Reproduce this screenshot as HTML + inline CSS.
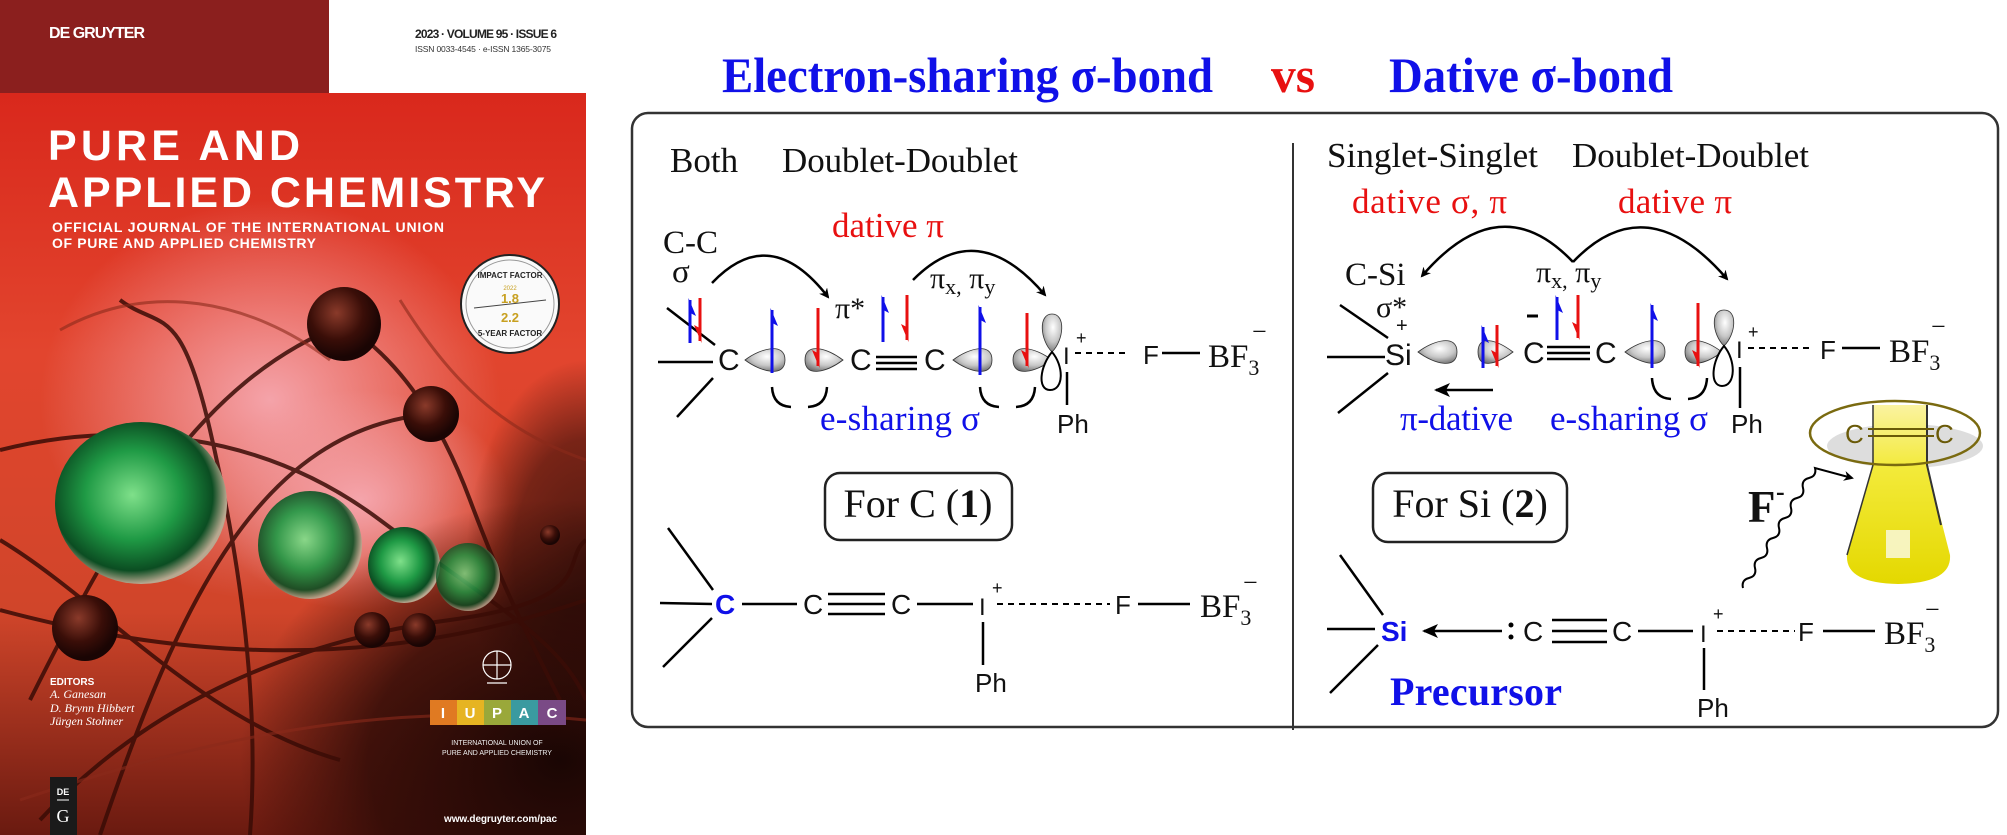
<!DOCTYPE html>
<html><head><meta charset="utf-8"><style>
html,body{margin:0;padding:0;background:#fff;width:2007px;height:835px;overflow:hidden;}
svg{display:block;}
.s{font-family:"Liberation Serif",serif;}
.a{font-family:"Liberation Sans",sans-serif;}
</style></head><body>
<svg width="2007" height="835" viewBox="0 0 2007 835" xmlns="http://www.w3.org/2000/svg">
<defs>
<clipPath id="cc"><rect x="0" y="93" width="586" height="742"/></clipPath>
<linearGradient id="cv" x1="0" y1="0" x2="0" y2="1">
<stop offset="0" stop-color="#d9281c"/><stop offset="0.35" stop-color="#e2452e"/><stop offset="0.7" stop-color="#d0452a"/><stop offset="1" stop-color="#6a1a10"/>
</linearGradient>
<radialGradient id="pk" cx="0.5" cy="0.5" r="0.5"><stop offset="0" stop-color="#f6a8b0" stop-opacity="0.95"/><stop offset="1" stop-color="#f6a8b0" stop-opacity="0"/></radialGradient>
<radialGradient id="dk" cx="0.5" cy="0.5" r="0.5"><stop offset="0" stop-color="#1a0604" stop-opacity="1"/><stop offset="0.6" stop-color="#2a0a06" stop-opacity="0.8"/><stop offset="1" stop-color="#2a0a06" stop-opacity="0"/></radialGradient>
<radialGradient id="gr" cx="0.45" cy="0.45" r="0.55"><stop offset="0" stop-color="#7fe08a"/><stop offset="0.5" stop-color="#1f9a45"/><stop offset="0.85" stop-color="#0b4d22"/><stop offset="1" stop-color="#b8a890"/></radialGradient>
<radialGradient id="br" cx="0.4" cy="0.35" r="0.6"><stop offset="0" stop-color="#8a3a2a"/><stop offset="0.6" stop-color="#3a0e08"/><stop offset="1" stop-color="#1a0504"/></radialGradient>
<radialGradient id="lb" cx="0.55" cy="0.35" r="0.7"><stop offset="0" stop-color="#ffffff"/><stop offset="0.55" stop-color="#c8c8c8"/><stop offset="1" stop-color="#6e6e6e"/></radialGradient>
<linearGradient id="fl" x1="0" y1="0" x2="0" y2="1"><stop offset="0" stop-color="#fbf3a0"/><stop offset="0.35" stop-color="#f3ea3a"/><stop offset="1" stop-color="#e4d800"/></linearGradient>
<marker id="ah" markerWidth="10" markerHeight="10" refX="8" refY="5" orient="auto" markerUnits="userSpaceOnUse"><path d="M0,0 L10,5 L0,10 L3,5 Z" fill="#000"/></marker>
<marker id="ah2" markerWidth="16" markerHeight="14" refX="14" refY="7" orient="auto" markerUnits="userSpaceOnUse"><path d="M0,0 L16,7 L0,14 L4,7 Z" fill="#000"/></marker>
</defs>

<!-- ===== COVER ===== -->
<rect x="0" y="0" width="329" height="93" fill="#8b1f1e"/>
<text x="49" y="38" class="a" font-weight="bold" font-size="16" fill="#fff" textLength="96">DE GRUYTER</text>
<text x="415" y="38" class="a" font-weight="bold" font-size="12" fill="#222" textLength="142">2023 · VOLUME 95 · ISSUE 6</text>
<text x="415" y="52" class="a" font-size="8.5" fill="#333" textLength="136">ISSN 0033-4545 · e-ISSN 1365-3075</text>
<g clip-path="url(#cc)">
<rect x="0" y="93" width="586" height="742" fill="url(#cv)"/>
<ellipse cx="270" cy="400" rx="230" ry="200" fill="url(#pk)"/>
<ellipse cx="360" cy="500" rx="150" ry="110" fill="url(#pk)"/>
<ellipse cx="560" cy="760" rx="320" ry="260" fill="url(#dk)"/>
<ellipse cx="586" cy="560" rx="120" ry="200" fill="url(#dk)" opacity="0.7"/>
<g fill="none" stroke="#3a0c06" stroke-width="4" opacity="0.85">
<path d="M0,450 C120,420 260,430 380,520 S560,640 586,700"/>
<path d="M30,700 C120,520 200,380 344,324"/>
<path d="M40,820 C150,700 300,640 450,620 S560,560 586,540"/>
<path d="M100,835 C180,600 260,430 430,414"/>
<path d="M250,835 C260,700 240,560 210,430 S160,330 120,300"/>
<path d="M0,610 C150,650 350,680 586,600"/>
<path d="M344,324 C400,360 440,420 470,500 S520,620 560,700"/>
<path d="M0,540 C100,600 200,720 340,760"/>
</g>
<g fill="none" stroke="#8a2a1a" stroke-width="3" opacity="0.6">
<path d="M60,330 C150,280 250,300 330,360"/>
<path d="M20,800 C200,740 380,700 586,720"/>
<path d="M400,300 C450,380 500,430 586,460"/>
</g>
<ellipse cx="141" cy="503" rx="86" ry="81" fill="url(#gr)"/>
<ellipse cx="310" cy="545" rx="52" ry="54" fill="url(#gr)" opacity="0.9"/>
<ellipse cx="404" cy="565" rx="36" ry="38" fill="url(#gr)"/>
<ellipse cx="468" cy="577" rx="32" ry="34" fill="url(#gr)" opacity="0.8"/>
<circle cx="344" cy="324" r="37" fill="url(#br)"/>
<circle cx="431" cy="414" r="28" fill="url(#br)"/>
<circle cx="85" cy="628" r="33" fill="url(#br)"/>
<circle cx="372" cy="630" r="18" fill="url(#br)"/>
<circle cx="419" cy="630" r="17" fill="url(#br)"/>
<circle cx="550" cy="535" r="10" fill="url(#br)"/>
</g>
<text x="48" y="160" class="a" font-weight="bold" font-size="43" fill="#fff" textLength="252">PURE AND</text>
<text x="48" y="207" class="a" font-weight="bold" font-size="43" fill="#fff" textLength="497">APPLIED CHEMISTRY</text>
<text x="52" y="232" class="a" font-weight="bold" font-size="14" fill="#fff" textLength="392">OFFICIAL JOURNAL OF THE INTERNATIONAL UNION</text>
<text x="52" y="248" class="a" font-weight="bold" font-size="14" fill="#fff" textLength="264">OF PURE AND APPLIED CHEMISTRY</text>
<circle cx="510" cy="304" r="49" fill="#fafafa" stroke="#222" stroke-width="2"/>
<circle cx="510" cy="304" r="44" fill="none" stroke="#999" stroke-width="1"/>
<text x="510" y="278" class="a" font-weight="bold" font-size="8" fill="#222" text-anchor="middle">IMPACT FACTOR</text>
<text x="510" y="290" class="a" font-size="6" fill="#c8a020" text-anchor="middle">2022</text>
<text x="510" y="303" class="a" font-weight="bold" font-size="13" fill="#c8a020" text-anchor="middle">1.8</text>
<line x1="474" y1="308" x2="546" y2="300" stroke="#444" stroke-width="1"/>
<text x="510" y="322" class="a" font-weight="bold" font-size="13" fill="#c8a020" text-anchor="middle">2.2</text>
<text x="510" y="336" class="a" font-weight="bold" font-size="8" fill="#222" text-anchor="middle">5-YEAR FACTOR</text>
<text x="50" y="685" class="a" font-weight="bold" font-size="10" fill="#fff">EDITORS</text>
<text x="50" y="698" class="s" font-style="italic" font-size="12" fill="#fff">A. Ganesan</text>
<text x="50" y="712" class="s" font-style="italic" font-size="12" fill="#fff">D. Brynn Hibbert</text>
<text x="50" y="725" class="s" font-style="italic" font-size="12" fill="#fff">Jürgen Stohner</text>
<g fill="none" stroke="#fff" stroke-width="1.2"><circle cx="497" cy="665" r="14"/><line x1="483" y1="665" x2="511" y2="665"/><line x1="497" y1="651" x2="497" y2="679"/><line x1="487" y1="683" x2="507" y2="683"/></g>
<rect x="430" y="700" width="27" height="25" fill="#e07a22"/><rect x="457" y="700" width="27" height="25" fill="#e6b422"/><rect x="484" y="700" width="27" height="25" fill="#9aa83a"/><rect x="511" y="700" width="27" height="25" fill="#3a9aa0"/><rect x="538" y="700" width="28" height="25" fill="#7a4a86"/>
<g class="a" font-weight="bold" font-size="15" fill="#fff" text-anchor="middle"><text x="443" y="718">I</text><text x="470" y="718">U</text><text x="497" y="718">P</text><text x="524" y="718">A</text><text x="552" y="718">C</text></g>
<text x="497" y="745" class="a" font-size="7" fill="#eee" text-anchor="middle">INTERNATIONAL UNION OF</text>
<text x="497" y="755" class="a" font-size="7" fill="#eee" text-anchor="middle">PURE AND APPLIED CHEMISTRY</text>
<text x="444" y="822" class="a" font-weight="bold" font-size="10" fill="#fff" textLength="113">www.degruyter.com/pac</text>
<rect x="50" y="777" width="27" height="58" fill="#1a1a1a"/>
<text x="63" y="795" class="a" font-weight="bold" font-size="9" fill="#fff" text-anchor="middle">DE</text>
<line x1="57" y1="800" x2="69" y2="800" stroke="#fff" stroke-width="1"/>
<text x="63" y="822" class="s" font-size="18" fill="#fff" text-anchor="middle">G</text>

<!-- ===== TITLE ===== -->
<g class="s" font-weight="bold" font-size="50">
<text x="722" y="92" fill="#1010e8" textLength="491" lengthAdjust="spacingAndGlyphs">Electron-sharing σ-bond</text>
<text x="1271" y="92" fill="#e81010" textLength="44" lengthAdjust="spacingAndGlyphs">vs</text>
<text x="1389" y="92" fill="#1010e8" textLength="284" lengthAdjust="spacingAndGlyphs">Dative σ-bond</text>
</g>

<!-- ===== BOX ===== -->
<rect x="632" y="113" width="1366" height="614" rx="16" fill="none" stroke="#333" stroke-width="2.5"/>
<line x1="1293" y1="143" x2="1293" y2="730" stroke="#333" stroke-width="2"/>

<!-- LEFT PANEL -->
<g class="s" font-size="35" fill="#111">
<text x="670" y="172">Both</text>
<text x="782" y="172" textLength="236">Doublet-Doublet</text>
<text x="832" y="237" fill="#e81010">dative π</text>
<text x="663" y="253" font-size="33">C-C</text>
<text x="672" y="282" font-size="33">σ</text>
<text x="835" y="318" font-size="30">π*</text>
<text x="930" y="288" font-size="30">π<tspan font-size="22" dy="6">x,</tspan><tspan dy="-6"> π</tspan><tspan font-size="22" dy="6">y</tspan></text>
<text x="820" y="430" fill="#1010e8" textLength="160">e-sharing σ</text>
</g>
<g fill="none" stroke="#000" stroke-width="2.5">
<path d="M712,283 Q770,222 828,297" marker-end="url(#ah)"/>
<path d="M913,280 Q977,215 1045,295" marker-end="url(#ah)"/>
<line x1="658" y1="362" x2="713" y2="362"/>
<line x1="667" y1="308" x2="715" y2="345"/>
<line x1="713" y1="378" x2="677" y2="417"/>
<line x1="876" y1="357" x2="917" y2="357"/><line x1="876" y1="363" x2="917" y2="363"/><line x1="876" y1="369" x2="917" y2="369"/>
<line x1="1067" y1="372" x2="1067" y2="405"/>
<path d="M1075,353 H1128" stroke-dasharray="6 5" stroke-width="2"/>
<line x1="1162" y1="353" x2="1200" y2="353"/>
<path d="M772,387 Q773,406 791,407"/><path d="M808,407 Q826,406 827,387"/>
<path d="M980,387 Q981,406 999,407"/><path d="M1016,407 Q1034,406 1035,387"/>
</g>
<g class="a" font-size="30" fill="#111">
<text x="718" y="370">C</text><text x="850" y="370">C</text><text x="924" y="370">C</text>
<text x="1063" y="364" font-size="24">I</text><text x="1076" y="344" font-size="18">+</text>
<text x="1143" y="364" font-size="26">F</text>
<text x="1057" y="433" font-size="26">Ph</text>
</g>
<text x="1208" y="367" class="s" font-size="33" fill="#111">BF<tspan font-size="22" dy="8">3</tspan></text>
<text x="1252" y="340" class="s" font-size="26" fill="#111">−</text>
<g stroke="#333" stroke-width="0.8" fill="url(#lb)">
<path d="M745,360 C761,348 785,342 785,360 C785,378 761,372 745,360Z"/>
<path d="M843,360 C827,348 805,342 805,360 C805,378 827,372 843,360Z"/>
<path d="M953,360 C969,348 992,342 992,360 C992,378 969,372 953,360Z"/>
<path d="M1052,360 C1036,348 1013,342 1013,360 C1013,378 1036,372 1052,360Z"/>
<path d="M1052,352 C1040,340 1038,314 1052,314 C1066,314 1064,340 1052,352Z"/>
<path d="M1052,352 C1040,366 1037,390 1050,390 C1064,390 1064,366 1052,352Z" fill="#fff" stroke="#000" stroke-width="2"/>
</g>
<g stroke-width="3">
<line x1="690" y1="343" x2="690" y2="300" stroke="#1010e8"/><polygon points="688.5,298 696,316 688.5,312" fill="#1010e8"/>
<line x1="700" y1="298" x2="700" y2="341" stroke="#e81010"/><polygon points="701.5,343 694,325 701.5,329" fill="#e81010"/>
<line x1="772" y1="373" x2="772" y2="310" stroke="#1010e8"/><polygon points="770.5,308 778,326 770.5,322" fill="#1010e8"/>
<line x1="818" y1="308" x2="818" y2="366" stroke="#e81010"/><polygon points="819.5,368 812,350 819.5,354" fill="#e81010"/>
<line x1="883" y1="342" x2="883" y2="297" stroke="#1010e8"/><polygon points="881.5,295 889,313 881.5,309" fill="#1010e8"/>
<line x1="907" y1="295" x2="907" y2="340" stroke="#e81010"/><polygon points="908.5,342 901,324 908.5,328" fill="#e81010"/>
<line x1="980" y1="375" x2="980" y2="307" stroke="#1010e8"/><polygon points="978.5,305 986,323 978.5,319" fill="#1010e8"/>
<line x1="1027" y1="313" x2="1027" y2="366" stroke="#e81010"/><polygon points="1028.5,368 1021,350 1028.5,354" fill="#e81010"/>
</g>
<rect x="825" y="473" width="187" height="67" rx="15" fill="none" stroke="#222" stroke-width="2.5"/>
<text x="918" y="517" class="s" font-size="40" fill="#111" text-anchor="middle">For C (<tspan font-weight="bold">1</tspan>)</text>
<g fill="none" stroke="#000" stroke-width="2.5">
<line x1="668" y1="528" x2="713" y2="590"/>
<line x1="660" y1="603" x2="712" y2="604"/>
<line x1="712" y1="618" x2="663" y2="667"/>
<line x1="742" y1="604" x2="797" y2="604"/>
<line x1="828" y1="594" x2="885" y2="594"/><line x1="828" y1="604" x2="885" y2="604"/><line x1="828" y1="614" x2="885" y2="614"/>
<line x1="917" y1="604" x2="973" y2="604"/>
<line x1="983" y1="622" x2="983" y2="665"/>
<path d="M997,604 H1110" stroke-dasharray="6 5" stroke-width="2"/>
<line x1="1138" y1="604" x2="1190" y2="604"/>
</g>
<g class="a" font-size="28" fill="#111">
<text x="715" y="614" fill="#1010e8" font-weight="bold">C</text>
<text x="803" y="614">C</text><text x="891" y="614">C</text>
<text x="979" y="615" font-size="24">I</text><text x="992" y="594" font-size="18">+</text>
<text x="1115" y="614" font-size="26">F</text>
<text x="975" y="692" font-size="26">Ph</text>
</g>
<text x="1200" y="617" class="s" font-size="33" fill="#111">BF<tspan font-size="22" dy="8">3</tspan></text>
<text x="1243" y="591" class="s" font-size="26" fill="#111">−</text>

<!-- RIGHT PANEL -->
<g class="s" font-size="35" fill="#111">
<text x="1327" y="167" textLength="211">Singlet-Singlet</text>
<text x="1572" y="167" textLength="237">Doublet-Doublet</text>
<text x="1352" y="213" fill="#e81010" textLength="155">dative σ, π</text>
<text x="1618" y="213" fill="#e81010" textLength="114">dative π</text>
<text x="1345" y="285" font-size="33">C-Si</text>
<text x="1376" y="317" font-size="30">σ*</text>
<text x="1536" y="282" font-size="30">π<tspan font-size="22" dy="6">x,</tspan><tspan dy="-6"> π</tspan><tspan font-size="22" dy="6">y</tspan></text>
<text x="1400" y="430" fill="#1010e8" textLength="113">π-dative</text>
<text x="1550" y="430" fill="#1010e8" textLength="158">e-sharing σ</text>
</g>
<g fill="none" stroke="#000" stroke-width="2.5">
<path d="M1573,262 Q1500,185 1422,276" marker-end="url(#ah)"/>
<path d="M1573,262 Q1646,185 1727,279" marker-end="url(#ah)"/>
<line x1="1327" y1="357" x2="1385" y2="357"/>
<line x1="1340" y1="305" x2="1388" y2="338"/>
<line x1="1388" y1="373" x2="1338" y2="413"/>
<line x1="1547" y1="347" x2="1590" y2="347"/><line x1="1547" y1="353" x2="1590" y2="353"/><line x1="1547" y1="359" x2="1590" y2="359"/>
<line x1="1527" y1="316" x2="1538" y2="316" stroke-width="3"/>
<line x1="1740" y1="367" x2="1740" y2="408"/>
<path d="M1748,348 H1812" stroke-dasharray="6 5" stroke-width="2"/>
<line x1="1842" y1="348" x2="1880" y2="348"/>
<path d="M1652,378 Q1653,398 1671,399"/><path d="M1688,399 Q1706,398 1707,378"/>
<line x1="1493" y1="390" x2="1436" y2="390" marker-end="url(#ah2)"/>
</g>
<g class="a" font-size="30" fill="#111">
<text x="1385" y="365">Si</text><text x="1396" y="332" font-size="20">+</text>
<text x="1523" y="363">C</text><text x="1595" y="363">C</text>
<text x="1736" y="358" font-size="24">I</text><text x="1748" y="338" font-size="18">+</text>
<text x="1820" y="359" font-size="26">F</text>
<text x="1731" y="433" font-size="26">Ph</text>
</g>
<text x="1889" y="362" class="s" font-size="33" fill="#111">BF<tspan font-size="22" dy="8">3</tspan></text>
<text x="1931" y="335" class="s" font-size="26" fill="#111">−</text>
<g stroke="#333" stroke-width="0.8" fill="url(#lb)">
<path d="M1418,352 C1434,340 1457,334 1457,352 C1457,370 1434,364 1418,352Z"/>
<path d="M1513,352 C1497,340 1478,334 1478,352 C1478,370 1497,364 1513,352Z"/>
<path d="M1625,352 C1641,340 1665,334 1665,352 C1665,370 1641,364 1625,352Z"/>
<path d="M1722,352 C1706,340 1685,334 1685,352 C1685,370 1706,364 1722,352Z"/>
<path d="M1724,346 C1712,334 1710,310 1724,310 C1738,310 1736,334 1724,346Z"/>
<path d="M1724,346 C1712,360 1709,386 1722,386 C1736,386 1736,360 1724,346Z" fill="#fff" stroke="#000" stroke-width="2"/>
</g>
<g stroke-width="3">
<line x1="1483" y1="368" x2="1483" y2="327" stroke="#1010e8"/><polygon points="1481.5,325 1489,343 1481.5,339" fill="#1010e8"/>
<line x1="1497" y1="325" x2="1497" y2="366" stroke="#e81010"/><polygon points="1498.5,368 1491,350 1498.5,354" fill="#e81010"/>
<line x1="1557" y1="340" x2="1557" y2="297" stroke="#1010e8"/><polygon points="1555.5,295 1563,313 1555.5,309" fill="#1010e8"/>
<line x1="1578" y1="295" x2="1578" y2="338" stroke="#e81010"/><polygon points="1579.5,340 1572,322 1579.5,326" fill="#e81010"/>
<line x1="1652" y1="368" x2="1652" y2="305" stroke="#1010e8"/><polygon points="1650.5,303 1658,321 1650.5,317" fill="#1010e8"/>
<line x1="1698" y1="303" x2="1698" y2="366" stroke="#e81010"/><polygon points="1699.5,368 1692,350 1699.5,354" fill="#e81010"/>
</g>
<ellipse cx="1905" cy="446" rx="78" ry="22" fill="#bbb" opacity="0.5"/>
<path d="M1873,405 L1873,465 L1847,555 Q1845,583 1898,584 Q1952,583 1950,555 L1927,465 L1927,405 Z" fill="url(#fl)"/>
<path d="M1873,405 L1873,465 L1847,555" fill="none" stroke="#333" stroke-width="1.5"/>
<path d="M1927,405 L1927,465 L1941,525" fill="none" stroke="#333" stroke-width="2"/>
<rect x="1886" y="530" width="24" height="28" fill="#f8f6d0" opacity="0.9"/>
<ellipse cx="1895" cy="433" rx="85" ry="32" fill="none" stroke="#7a6a10" stroke-width="2.5"/>
<g class="a" font-size="26" fill="#6a5a08"><text x="1845" y="443">C</text><text x="1935" y="443">C</text></g>
<g stroke="#6a5a08" stroke-width="2"><line x1="1868" y1="429" x2="1934" y2="429"/><line x1="1868" y1="436" x2="1934" y2="436"/></g>
<text x="1748" y="522" class="s" font-weight="bold" font-size="45" fill="#111">F</text>
<text x="1776" y="500" class="s" font-weight="bold" font-size="26" fill="#111">-</text>
<path d="M1743,588 q-2,-8 6,-10 q8,-2 6,-10 q-2,-8 6,-10 q8,-2 6,-10 q-2,-8 6,-10 q8,-2 6,-10 q-2,-8 6,-10 q8,-2 6,-10 q-2,-8 6,-10 q8,-2 6,-10 q-2,-8 6,-10 q8,-2 6,-10 L1852,478" fill="none" stroke="#000" stroke-width="2" marker-end="url(#ah)"/>
<rect x="1373" y="473" width="194" height="69" rx="15" fill="none" stroke="#222" stroke-width="2.5"/>
<text x="1470" y="517" class="s" font-size="40" fill="#111" text-anchor="middle">For Si (<tspan font-weight="bold">2</tspan>)</text>
<g fill="none" stroke="#000" stroke-width="2.5">
<line x1="1340" y1="555" x2="1383" y2="615"/>
<line x1="1327" y1="629" x2="1375" y2="629"/>
<line x1="1378" y1="645" x2="1330" y2="693"/>
<line x1="1502" y1="631" x2="1424" y2="631" marker-end="url(#ah2)"/>
<line x1="1552" y1="620" x2="1607" y2="620"/><line x1="1552" y1="631" x2="1607" y2="631"/><line x1="1552" y1="642" x2="1607" y2="642"/>
<line x1="1638" y1="631" x2="1693" y2="631"/>
<line x1="1704" y1="648" x2="1704" y2="690"/>
<path d="M1717,631 H1795" stroke-dasharray="6 5" stroke-width="2"/>
<line x1="1823" y1="631" x2="1875" y2="631"/>
</g>
<circle cx="1511" cy="625" r="2.5" fill="#000"/><circle cx="1511" cy="637" r="2.5" fill="#000"/>
<g class="a" font-size="28" fill="#111">
<text x="1381" y="641" fill="#1010e8" font-weight="bold">Si</text>
<text x="1523" y="641">C</text><text x="1612" y="641">C</text>
<text x="1700" y="642" font-size="24">I</text><text x="1713" y="620" font-size="18">+</text>
<text x="1798" y="641" font-size="26">F</text>
<text x="1697" y="717" font-size="26">Ph</text>
</g>
<text x="1884" y="644" class="s" font-size="33" fill="#111">BF<tspan font-size="22" dy="8">3</tspan></text>
<text x="1925" y="618" class="s" font-size="26" fill="#111">−</text>
<text x="1390" y="705" class="s" font-weight="bold" font-size="40" fill="#1010e8" textLength="172">Precursor</text>
</svg>
</body></html>
